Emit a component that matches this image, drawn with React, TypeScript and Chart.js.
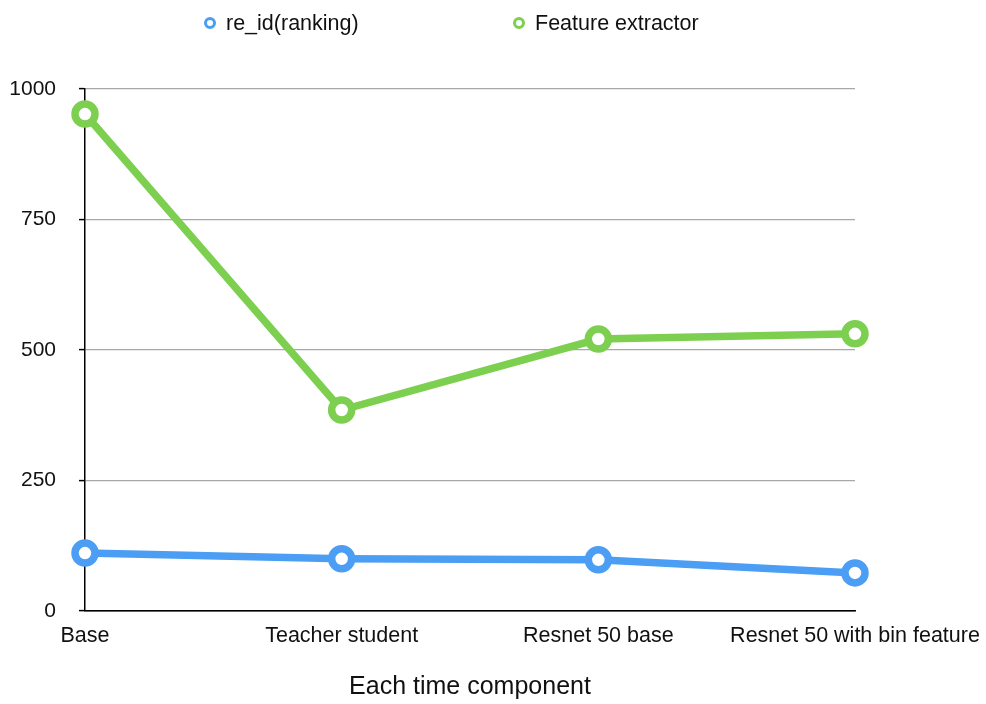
import React, { useEffect, useRef } from "react";
import { Chart, registerables } from "chart.js";

Chart.register(...registerables);

const categories = ["Base", "Teacher student", "Resnet 50 base", "Resnet 50 with bin feature"];
const reIdRanking = [111, 100, 98, 73];
const featureExtractor = [952, 385, 521, 531];
const seriesNames = ["re_id(ranking)", "Feature extractor"];
const seriesColors = ["#4b9ef3", "#7ccf4f"];
const yTicks = [0, 250, 500, 750, 1000];
const xTitle = "Each time component";

const FONT = "'Liberation Sans', Arial, Helvetica, sans-serif";

export default function App() {
  const ref = useRef<HTMLCanvasElement | null>(null);

  useEffect(() => {
    if (!ref.current) return;
    const mk = (i: number, data: number[]) => ({
      label: seriesNames[i],
      data,
      borderColor: seriesColors[i],
      backgroundColor: "#ffffff",
      borderWidth: 7.5,
      pointRadius: 10,
      pointBorderWidth: 7.5,
      pointBackgroundColor: "#ffffff",
      pointBorderColor: seriesColors[i],
      tension: 0,
    });
    const chart = new Chart(ref.current, {
      type: "line",
      data: {
        labels: categories,
        datasets: [mk(1, featureExtractor), mk(0, reIdRanking)],
      },
      options: {
        animation: false,
        responsive: false,
        layout: { padding: { top: 89, right: 131, bottom: 0, left: 0 } },
        plugins: {
          legend: { display: false },
          tooltip: { enabled: false },
        },
        scales: {
          x: {
            type: "category",
            offset: false,
            grid: { display: false, drawTicks: false },
            border: { display: true, color: "#000", width: 1.5 },
            ticks: {
              color: "#111",
              font: { family: FONT, size: 21.5 },
              padding: 12,
              maxRotation: 0,
              autoSkip: false,
            },
            title: {
              display: true,
              text: xTitle,
              color: "#111",
              font: { family: FONT, size: 25 },
              padding: { top: 0, bottom: 2 },
            },
            afterFit: (s: any) => {
              s.height = 93;
              s.paddingLeft = 0;
              s.paddingRight = 0;
            },
          },
          y: {
            min: 0,
            max: 1000,
            afterBuildTicks: (s: any) => {
              s.ticks = yTicks.map((v) => ({ value: v }));
            },
            grid: {
              color: (c: any) => (c.tick && c.tick.value === 0 ? "#000" : "#a8a8a8"),
              lineWidth: 1.2,
              tickColor: "#000",
              tickLength: 6,
              tickWidth: 1.5,
            },
            border: { display: true, color: "#000", width: 1.5 },
            ticks: {
              color: "#111",
              font: { family: FONT, size: 21 },
              padding: 23,
              callback: (v: any) => String(v),
            },
            afterFit: (s: any) => {
              s.width = 85;
            },
          },
        },
      },
    });
    return () => chart.destroy();
  }, []);

  const legendPos = [204, 513];

  return (
    <div style={{ position: "fixed", left: 0, top: 0, width: 986, height: 704, background: "#fff" }}>
      <canvas ref={ref} width={986} height={704} style={{ position: "absolute", left: 0, top: 0 }} />
      {seriesNames.map((name, i) => (
        <div
          key={name}
          style={{
            position: "absolute",
            left: legendPos[i],
            top: 10,
            height: 26,
            display: "flex",
            alignItems: "center",
            fontFamily: FONT,
            fontSize: 21.5,
            color: "#111",
            whiteSpace: "nowrap",
          }}
        >
          <span
            style={{
              display: "inline-block",
              width: 6,
              height: 6,
              borderRadius: "50%",
              border: `3.5px solid ${seriesColors[i]}`,
              background: "#fff",
              marginRight: 10,
            }}
          />
          <span>{name}</span>
        </div>
      ))}
    </div>
  );
}
